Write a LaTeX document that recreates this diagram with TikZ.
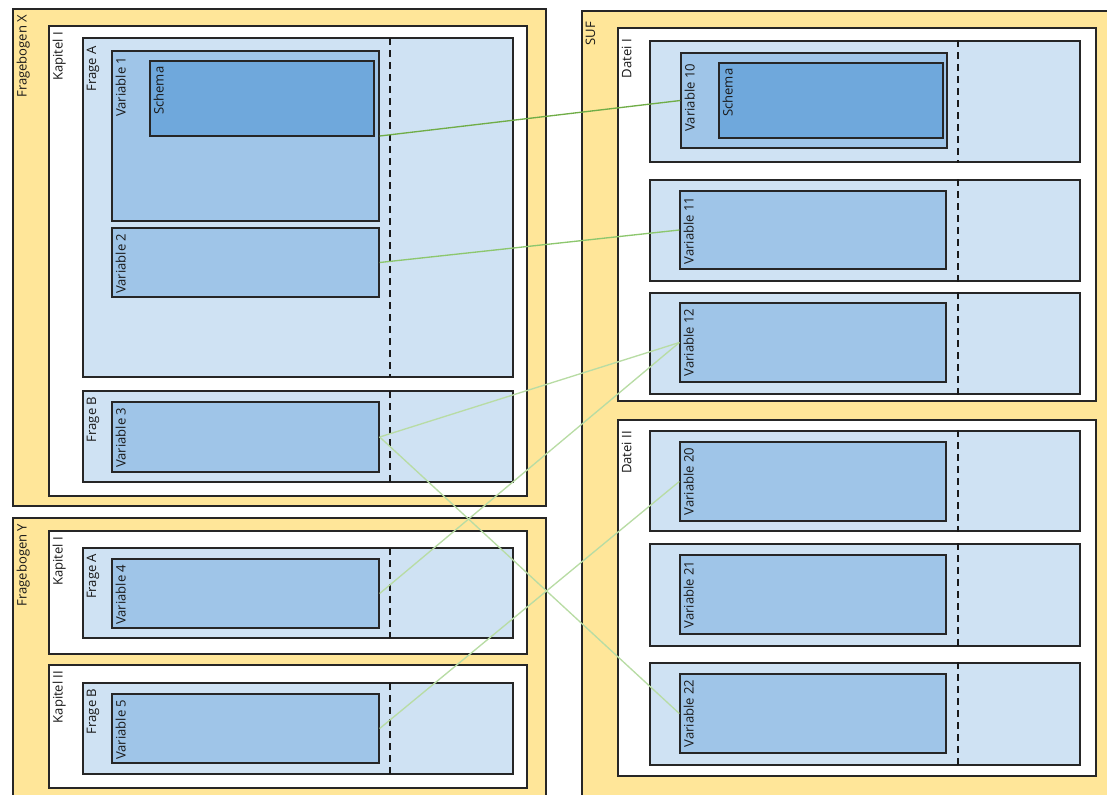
\documentclass[tikz,border=0pt]{standalone}
\usepackage{fontspec}
\setmainfont{Open Sans}
\usepackage{xcolor}
\usetikzlibrary{fit, positioning}
\definecolor{bogen}{HTML}{FFE699}
\definecolor{frage}{HTML}{CFE2F3}
\definecolor{varfill}{HTML}{9FC5E8}
\definecolor{schemafill}{HTML}{6FA8DC}
\definecolor{linkdark}{HTML}{70AD47}
\definecolor{linkmid}{HTML}{8DC76E}
\definecolor{linklight}{HTML}{B8DCA4}
\tikzset{
    every node/.style={font=\fontsize{9.8}{12}\selectfont}, % text size of all labels
    boxline/.style={draw=black!85, line width=0.8pt, inner sep=0pt}, % frame of every box
    bogenbox/.style={boxline, fill=bogen}, % Fragebogen and SUF
    kapbox/.style={boxline, fill=white}, % Kapitel and Datei
    fragebox/.style={boxline, fill=frage}, % Frage and rows of a Datei
    varbox/.style={boxline, line width=1pt, fill=varfill},
    schemabox/.style={boxline, line width=1pt, fill=schemafill},
    lbl/.style={rotate=90, anchor=north east, inner xsep=4.5pt, inner ysep=3pt, text=black!90},
    divider/.style={draw=black!90, line width=1pt, dash pattern=on 5pt off 4pt},
    link/.style={line width=1pt},
}

\begin{document}
\begin{tikzpicture}[x=0.75pt, y=-0.75pt]
    \useasboundingbox (0,0) rectangle (1107,794);
    \clip (0,0) rectangle (1107,794);

    % Fragebogen X
    \node[bogenbox, fit={(13,9) (546,506)}] (fx) {};
    \node[lbl] (fx-t) at (fx.north west) {Fragebogen X};
    \node[kapbox, fit={(49,26) (527,496)}] (fxk1) {};
    \node[lbl] (fxk1-t) at (fxk1.north west) {Kapitel I};
    \node[fragebox, fit={(83,38) (513,377)}] (fxa) {};
    \node[lbl] (fxa-t) at ([yshift=-2pt]fxa.north west) {Frage A};
    \node[varbox, fit={(112,51) (379,221)}] (v1) {};
    \node[lbl] (v1-t) at (v1.north west) {Variable 1};
    \node[schemabox, fit={(150,61) (374,136)}] (s1) {};
    \node[lbl] (s1-t) at (s1.north west) {Schema};
    \node[varbox, fit={(112,228) (379,297)}] (v2) {};
    \node[lbl] (v2-t) at (v2.north west) {Variable 2};
    \node[fragebox, fit={(83,391) (513,482)}] (fxb) {};
    \node[lbl] (fxb-t) at (fxb.north west) {Frage B};
    \node[varbox, fit={(112,402) (379,472)}] (v3) {};
    \node[lbl] (v3-t) at (v3.north west) {Variable 3};
    \draw[divider] (390,38) -- (390,377);
    \draw[divider] (390,391) -- (390,482);

    % Fragebogen Y
    \node[bogenbox, fit={(13,518) (546,820)}] (fy) {};
    \node[lbl] (fy-t) at (fy.north west) {Fragebogen Y};
    \node[kapbox, fit={(49,531) (527,654)}] (fyk1) {};
    \node[lbl] (fyk1-t) at (fyk1.north west) {Kapitel I};
    \node[fragebox, fit={(83,548) (513,638)}] (fya) {};
    \node[lbl] (fya-t) at (fya.north west) {Frage A};
    \node[varbox, fit={(112,559) (379,628)}] (v4) {};
    \node[lbl] (v4-t) at (v4.north west) {Variable 4};
    \node[kapbox, fit={(49,665) (527,788)}] (fyk2) {};
    \node[lbl] (fyk2-t) at (fyk2.north west) {Kapitel II};
    \node[fragebox, fit={(83,683) (513,774)}] (fyb) {};
    \node[lbl] (fyb-t) at (fyb.north west) {Frage B};
    \node[varbox, fit={(112,694) (379,763)}] (v5) {};
    \node[lbl] (v5-t) at (v5.north west) {Variable 5};
    \draw[divider] (390,548) -- (390,638);
    \draw[divider] (390,683) -- (390,774);

    % SUF
    \node[bogenbox, fit={(582,11) (1130,820)}] (suf) {};
    \node[lbl] (suf-t) at ([yshift=-4pt]suf.north west) {SUF};
    \node[kapbox, fit={(618,28) (1096,401)}] (d1) {};
    \node[lbl] (d1-t) at ([yshift=-4pt]d1.north west) {Datei I};
    \node[fragebox, fit={(650,41) (1080,162)}] (r10) {};
    \node[varbox, fit={(681,53) (947,148)}] (v10) {};
    \node[lbl] (v10-t) at ([yshift=-4pt]v10.north west) {Variable 10};
    \node[schemabox, fit={(719,63) (943,138)}] (s10) {};
    \node[lbl] (s10-t) at (s10.north west) {Schema};
    \node[fragebox, fit={(650,180) (1080,281)}] (r11) {};
    \node[varbox, fit={(680,191) (946,269)}] (v11) {};
    \node[lbl] (v11-t) at (v11.north west) {Variable 11};
    \node[fragebox, fit={(650,293) (1080,394)}] (r12) {};
    \node[varbox, fit={(680,303) (946,382)}] (v12) {};
    \node[lbl] (v12-t) at (v12.north west) {Variable 12};
    \node[kapbox, fit={(618,420) (1096,776)}] (d2) {};
    \node[lbl] (d2-t) at ([yshift=-4pt]d2.north west) {Datei II};
    \node[fragebox, fit={(650,431) (1080,531)}] (r20) {};
    \node[varbox, fit={(680,442) (946,521)}] (v20) {};
    \node[lbl] (v20-t) at (v20.north west) {Variable 20};
    \node[fragebox, fit={(650,544) (1080,646)}] (r21) {};
    \node[varbox, fit={(680,555) (946,634)}] (v21) {};
    \node[lbl] (v21-t) at (v21.north west) {Variable 21};
    \node[fragebox, fit={(650,663) (1080,765)}] (r22) {};
    \node[varbox, fit={(680,674) (946,753)}] (v22) {};
    \node[lbl] (v22-t) at (v22.north west) {Variable 22};
    \foreach \r in {r10,r11,r12,r20,r21,r22}
        \draw[divider] (\r.north -| 958,0) -- (\r.south -| 958,0);

    % links
    \path[link]
        (v1.east) edge[draw=linkdark] (v10.west)
        (v2.east) edge[draw=linkmid] (v11.west)
        (v3.east) edge[draw=linklight] (v12.west)
                  edge[draw=linklight] (v22.west)
        (v4.east) edge[draw=linklight] (v12.west)
        (v5.east) edge[draw=linklight] (v20.west);
\end{tikzpicture}
\end{document}
